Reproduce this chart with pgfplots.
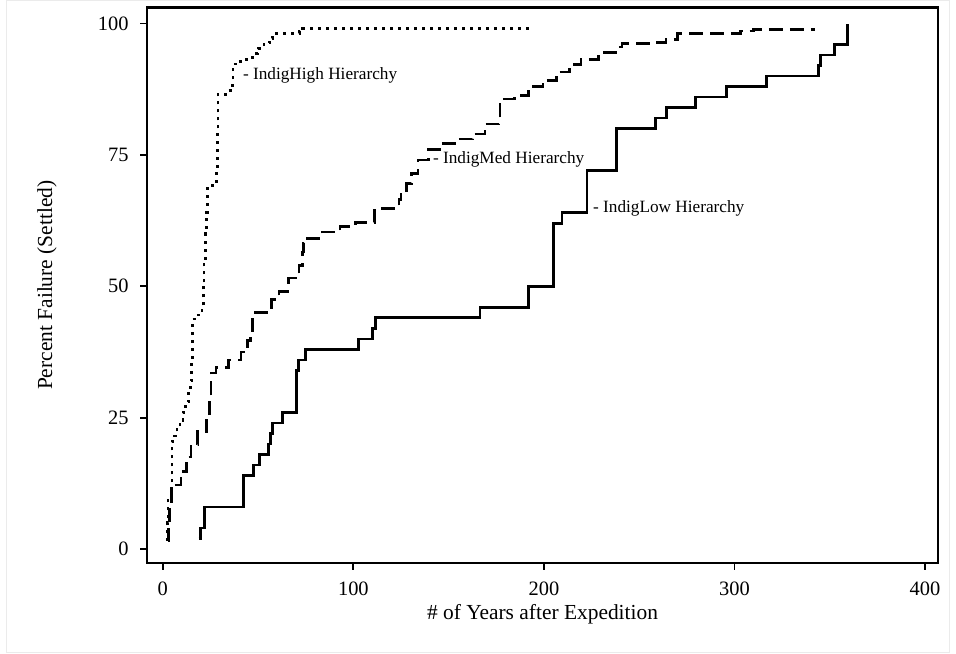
\documentclass[border=0pt]{standalone}
\usepackage{pgfplots}
\pgfplotsset{compat=1.18}
\usepackage{fontspec}
\setmainfont{Liberation Serif}

\begin{document}
\begin{tikzpicture}[x=1bp,y=1bp]
\path[use as bounding box] (0,0) rectangle (956,654);
\draw[black!8, line width=1bp] (6.5,1.5) rectangle (949.5,653.5);
\begin{axis}[
  at={(147bp,91bp)}, anchor=south west,
  scale only axis, width=791bp, height=555.5bp,
  xmin=-8.3, xmax=406.8, ymin=-2.66, ymax=103.05,
  xtick={0,100,200,300,400}, ytick={0,25,50,75,100},
  xtick pos=left, ytick pos=left,
  tick align=outside, major tick length=7bp,
  every tick/.style={black, line width=1.8bp},
  axis line style={line width=2.4bp},
  /pgf/number format/assume math mode=true,
  ticklabel style={font=\fontsize{20.5}{24}\selectfont},
  xticklabel style={yshift=-8bp},
  yticklabel style={xshift=-8bp},
  xlabel={\# of Years after Expedition},
  ylabel={Percent Failure (Settled)},
  label style={font=\fontsize{21.5}{25}\selectfont},
  xlabel style={at={(axis description cs:0.5,-0.092)}, anchor=center},
  ylabel style={at={(axis description cs:-0.1265,0.5)}, anchor=center},
  clip=false,
]
% High hierarchy (dotted)
\addplot[const plot, black, line width=2.6bp, dash pattern=on 3bp off 5bp] coordinates {
(1.6,1.7) (2.3,5) (2.8,9.5) (4.5,12) (4.9,20.5) (6,21.5) (7.5,23) (9,24.5)
(10.5,26) (12,28) (13.5,30) (14.5,32) (15.2,36) (15.5,43.8) (17.5,44.5)
(20.5,45.5) (21.2,50) (21.7,55) (22.3,60) (23,64) (23.6,69.2) (28.3,72)
(28.6,80) (29,86.5) (33,87.2) (36.6,89) (36.8,92.3) (40,92.8) (44,93.5)
(47,94.3) (50,95.3) (53,96.3) (56,97.2) (57.6,98.1) (71.7,98.6) (73.3,99.05)
(193.2,99.05)
};
% Med hierarchy (dashed)
\addplot[const plot, black, line width=2.6bp, dash pattern=on 14bp off 7bp] coordinates {
(2.6,1.5) (3,5) (3.5,9) (4.5,12.2) (9.5,14.8) (12.5,17.5) (14.8,19.8)
(18.3,22.4) (23,25) (24.6,28) (25.3,33.5) (28,34.5) (34.5,36) (41,37.5)
(44.3,39.7) (46,41) (47,45) (57,47.5) (61,49) (65.5,50) (66,51.6) (71.5,54)
(73.3,56.5) (73.8,58.2) (74.3,59.1) (83.5,60.3) (93,61.4) (101,62.1)
(111,64.8) (124,66.5) (125,67.7) (128,69.5) (130.5,71.5) (134,74)
(139.5,76) (145.5,77.2) (155,78) (162.5,79) (169,80.9) (176.5,82)
(177,85.6) (184.5,86.3) (192,88) (199.5,89.2) (206.5,90.8) (213.5,92.2)
(219.5,93.2) (228.5,94.5) (237.5,95.5) (241,96.2) (258,96.4) (264,97)
(270,98.1) (303,98.6) (310,98.9) (342.5,98.9)
};
% Low hierarchy (solid)
\addplot[const plot, black, line width=2.6bp] coordinates {
(18.8,2) (19.9,4) (22,8) (42.4,14) (47.6,16) (50.8,18) (55.5,20) (56.5,22)
(57.6,24) (62.8,26) (70.2,34) (71.2,36) (74.9,38) (102.6,40) (110,42)
(111.5,44) (166.5,46) (192,50) (205,62) (209.4,64) (222.5,72) (238,80)
(258.6,82) (264.4,84) (279.6,86) (295.8,88) (316.8,90) (344,92) (345,94)
(352.4,96) (359.2,100)
};
\node[anchor=west, inner sep=0, font=\fontsize{17.3}{20}\selectfont] at (axis cs:42,90.2) {- IndigHigh Hierarchy};
\node[anchor=west, inner sep=0, font=\fontsize{17.3}{20}\selectfont] at (axis cs:141.7,74.2) {- IndigMed Hierarchy};
\node[anchor=west, inner sep=0, font=\fontsize{17.3}{20}\selectfont] at (axis cs:225.7,64.9) {- IndigLow Hierarchy};
\end{axis}
\end{tikzpicture}
\end{document}
